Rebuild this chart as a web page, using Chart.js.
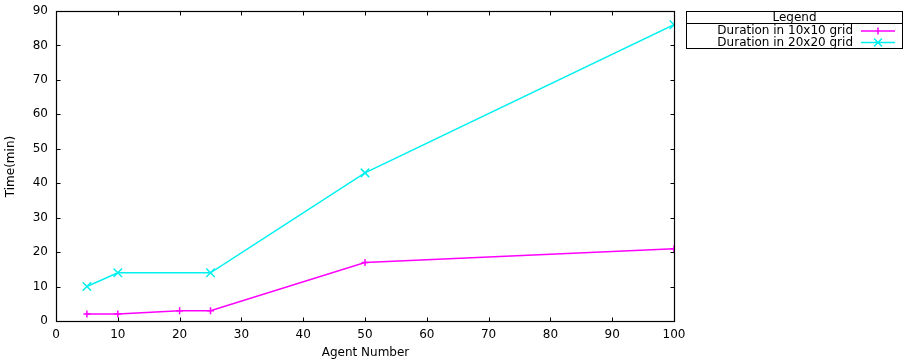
<!DOCTYPE html>
<html>
<head>
<meta charset="utf-8">
<script src="https://cdn.jsdelivr.net/npm/chart.js@4/dist/chart.umd.min.js"></script>
<style>
  html, body { margin: 0; padding: 0; background: #fff; }
  #wrap { position: relative; width: 903px; height: 362px; }
</style>
</head>
<body>
<div id="wrap"><canvas id="c" width="903" height="362"></canvas></div>
<script>
// Agent counts and measured durations (minutes)
const agents10 = [5, 10, 20, 25, 50, 100];
const duration10 = [2, 2, 3, 3, 17, 21];
const agents20 = [5, 10, 25, 50, 100];
const duration20 = [10, 14, 14, 43, 86];
const xTicks = [0, 10, 20, 30, 40, 50, 60, 70, 80, 90, 100];
const yTicks = [0, 10, 20, 30, 40, 50, 60, 70, 80, 90];
const seriesNames = ['Duration in 10x10 grid', 'Duration in 20x20 grid'];
const legendTitle = 'Legend';
const xTitle = 'Agent Number';
const yTitle = 'Time(min)';

const FONT = 'DejaVu Sans, Verdana, sans-serif';
const FONT_SIZE = 12;
const MAGENTA = '#ff00ff';
const CYAN = '#00f0f0';

function pts(xs, ys) { return xs.map((x, i) => ({ x: x, y: ys[i] })); }

// Frame, inward ticks on all sides, axis titles and boxed legend
const gnuFrame = {
  id: 'gnuFrame',
  afterDatasetsDraw(chart) {
    const ctx = chart.ctx;
    const a = chart.chartArea;
    const xs = chart.scales.x, ys = chart.scales.y;
    const L = Math.round(a.left) + 0.5, R = Math.round(a.right) + 0.5;
    const T = Math.round(a.top) + 0.5, B = Math.round(a.bottom) + 0.5;
    ctx.save();
    ctx.strokeStyle = '#000';
    ctx.lineWidth = 1;
    ctx.beginPath();
    xTicks.forEach(v => {
      const px = Math.round(xs.getPixelForValue(v)) + 0.5;
      ctx.moveTo(px, B); ctx.lineTo(px, B - 4);
      ctx.moveTo(px, T); ctx.lineTo(px, T + 4);
    });
    yTicks.forEach(v => {
      const py = Math.round(ys.getPixelForValue(v)) + 0.5;
      ctx.moveTo(L, py); ctx.lineTo(L + 4, py);
      ctx.moveTo(R, py); ctx.lineTo(R - 4, py);
    });
    ctx.stroke();
    ctx.lineWidth = 1.2;
    ctx.strokeRect(L, T, R - L, B - T);

    // axis titles
    ctx.fillStyle = '#000';
    ctx.font = FONT_SIZE + 'px ' + FONT;
    ctx.textAlign = 'center';
    ctx.textBaseline = 'middle';
    ctx.fillText(xTitle, (L + R) / 2, 353);
    ctx.save();
    ctx.translate(11, (T + B) / 2);
    ctx.rotate(-Math.PI / 2);
    ctx.fillText(yTitle, 0, 0);
    ctx.restore();

    // legend box
    const bx = 686.5, by = 11.5, bw = 216, bh = 37;
    ctx.lineWidth = 1;
    ctx.strokeRect(bx, by, bw, bh);
    ctx.beginPath();
    ctx.moveTo(bx, 23.5); ctx.lineTo(bx + bw, 23.5);
    ctx.stroke();
    ctx.fillText(legendTitle, bx + bw / 2, 17.5);
    const rows = [31, 42.5];
    chart.data.datasets.forEach((ds, i) => {
      const y = rows[i];
      ctx.textAlign = 'right';
      ctx.fillStyle = '#000';
      ctx.fillText(ds.label, 853, y);
      ctx.strokeStyle = ds.borderColor;
      ctx.lineWidth = 1.5;
      ctx.beginPath();
      ctx.moveTo(861, y); ctx.lineTo(895, y);
      const mx = 878;
      if (ds.pointStyle === 'cross') {
        ctx.moveTo(mx - 3.5, y); ctx.lineTo(mx + 3.5, y);
        ctx.moveTo(mx, y - 3.5); ctx.lineTo(mx, y + 3.5);
      } else {
        ctx.moveTo(mx - 4, y - 4); ctx.lineTo(mx + 4, y + 4);
        ctx.moveTo(mx - 4, y + 4); ctx.lineTo(mx + 4, y - 4);
      }
      ctx.stroke();
    });
    ctx.restore();
  }
};

new Chart(document.getElementById('c'), {
  type: 'line',
  data: {
    datasets: [
      {
        label: seriesNames[0],
        data: pts(agents10, duration10),
        borderColor: MAGENTA,
        backgroundColor: MAGENTA,
        borderWidth: 1.5,
        pointStyle: 'cross',
        pointRadius: 3.5,
        pointBorderWidth: 1.5,
        tension: 0
      },
      {
        label: seriesNames[1],
        data: pts(agents20, duration20),
        borderColor: CYAN,
        backgroundColor: CYAN,
        borderWidth: 1.5,
        pointStyle: 'crossRot',
        pointRadius: 6,
        pointBorderWidth: 1.5,
        tension: 0
      }
    ]
  },
  options: {
    responsive: false,
    animation: false,
    devicePixelRatio: 1,
    layout: { padding: { left: 0, right: 229, top: 11, bottom: 0 } },
    plugins: { legend: { display: false }, tooltip: { enabled: false } },
    scales: {
      x: {
        type: 'linear',
        min: 0, max: 100,
        afterBuildTicks(s) { s.ticks = xTicks.map(v => ({ value: v })); },
        afterFit(s) { s.height = 41; s.paddingLeft = 0; s.paddingRight = 0; },
        grid: { display: false, drawTicks: false },
        border: { display: false },
        ticks: { color: '#000', font: { family: FONT, size: FONT_SIZE }, padding: 7, maxRotation: 0 }
      },
      y: {
        min: 0, max: 90,
        afterBuildTicks(s) { s.ticks = yTicks.map(v => ({ value: v })); },
        afterFit(s) { s.width = 56; s.paddingTop = 0; s.paddingBottom = 0; },
        grid: { display: false, drawTicks: false },
        border: { display: false },
        ticks: { color: '#000', font: { family: FONT, size: FONT_SIZE }, padding: 8 }
      }
    }
  },
  plugins: [gnuFrame]
});
</script>
</body>
</html>
